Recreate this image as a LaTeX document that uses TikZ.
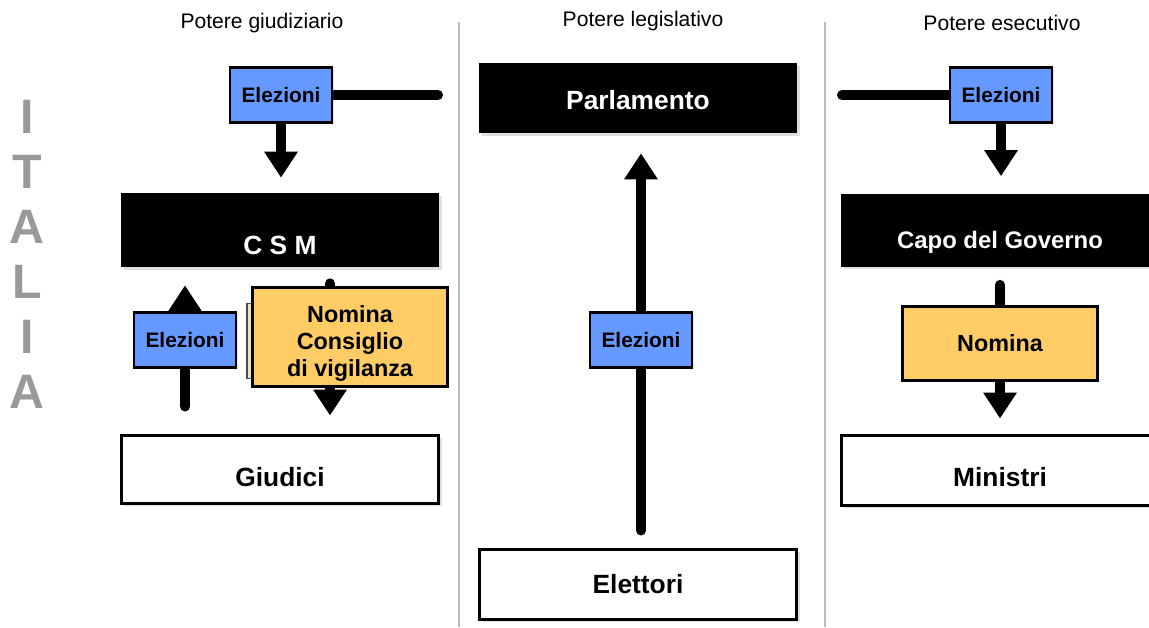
\documentclass[tikz,border=0pt]{standalone}
\usepackage{fontspec}
\setmainfont{Liberation Sans}
\usetikzlibrary{positioning, arrows.meta, calc, shadows}
\definecolor{elezblue}{HTML}{6699FF}
\definecolor{nomorange}{HTML}{FFCC66}
\definecolor{nomfaded}{HTML}{F2E2C0}
\definecolor{italgray}{HTML}{999999}
\definecolor{divgray}{HTML}{BBBBBB}
\pgfdeclarelayer{back}
\pgfdeclarelayer{links}
\pgfsetlayers{back,links,main}
\tikzset{
    bigtxt/.style={font=\fontsize{15}{17}\selectfont\bfseries},
    nomtxt/.style={align=center, font=\fontsize{13.3}{15.3}\selectfont\bfseries},
    bigbox/.style={
        rectangle,
        minimum width=6.36cm,
        minimum height=1.42cm,
        inner sep=0pt,
        bigtxt,
        drop shadow={opacity=0.25, shadow xshift=1.5pt, shadow yshift=-1.5pt},
    },
    darkbox/.style={bigbox, fill=black, text=white},
    lightbox/.style={bigbox, draw, line width=1.7pt, fill=white},
    elez/.style={
        draw,
        line width=1.5pt,
        fill=elezblue,
        minimum width=2.04cm,
        minimum height=1.1cm,
        inner sep=0pt,
        font=\fontsize{11.9}{13}\selectfont\bfseries,
        drop shadow={opacity=0.2, shadow xshift=1pt, shadow yshift=-1pt},
    },
    nomina/.style={
        draw,
        line width=1.7pt,
        fill=nomorange,
        minimum width=3.9cm,
        inner sep=0pt,
        nomtxt,
        drop shadow={opacity=0.2, shadow xshift=1pt, shadow yshift=-1pt},
    },
    nomback/.style={draw=black!70, line width=1pt, fill=nomfaded, minimum width=1.08cm, minimum height=1.5cm},
    header/.style={font=\fontsize{12}{14}\selectfont},
    italia/.style={text=italgray, font=\fontsize{27.5}{30}\selectfont\bfseries, inner sep=0pt},
    arr/.style={line width=0.2cm, line cap=round, -{Triangle[width=0.64cm, length=0.52cm]}},
    thickline/.style={line width=0.2cm, line cap=round},
    divider/.style={draw=divgray, line width=1.5pt},
}

\begin{document}
\begin{tikzpicture}[x=0.02cm, y=-0.02cm]
\begin{pgfonlayer}{back}
\fill[white] (0,0) rectangle (1149,627);
\end{pgfonlayer}
\useasboundingbox (0,0) rectangle (1149,627);

% ITALIA
\foreach \l [count=\i] in {I,T,A,L,I,A}
    \node[italia] (it\i) at (27,62+55*\i) {\l};

% columns
\draw[divider] (459,22) -- (459,627);
\draw[divider] (825,22) -- (825,627);
\node[header] (hgiud) at (262,23) {Potere giudiziario};
\node[header] (hleg) at (643,21) {Potere legislativo};
\node[header] (hesec) at (1002,23) {Potere esecutivo};

% potere giudiziario
\node[elez] (elezG) at (281,95) {Elezioni};
\node[darkbox, minimum height=1.48cm, label={[bigtxt, text=white, yshift=-0.3cm]center:C S M}] (csm) at (280,230) {};
\node[elez] (elezC) at (185,340) {Elezioni};
\node[nomback] (nomCback) at (274,341) {};
\node[nomina, minimum height=1.98cm, label={[nomtxt, yshift=-0.13cm]center:Nomina\\Consiglio\\di vigilanza}] (nomC) at (350,337) {};
\node[lightbox, minimum height=1.36cm, label={[bigtxt, yshift=-0.16cm]center:Giudici}] (giudici) at (280,469) {};
\coordinate (gEnd) at (438,95);

% potere legislativo
\node[darkbox, minimum height=1.4cm, label={[bigtxt, text=white, yshift=-0.05cm]center:Parlamento}] (parl) at (638,98) {};
\node[elez] (elezP) at (641,340) {Elezioni};
\node[lightbox, minimum height=1.4cm] (elettori) at (638,584) {Elettori};

% potere esecutivo
\node[elez] (elezE) at (1001,95) {Elezioni};
\node[darkbox, minimum height=1.46cm, label={[font=\fontsize{13.6}{16}\selectfont\bfseries, text=white, yshift=-0.24cm]center:Capo del Governo}] (capo) at (1000,230) {};
\node[nomina, minimum height=1.48cm] (nomE) at (1000,343) {Nomina};
\node[lightbox, minimum height=1.4cm, label={[bigtxt, yshift=-0.14cm]center:Ministri}] (ministri) at (1000,470) {};
\coordinate (eStart) at (842,95);

% links
\begin{pgfonlayer}{links}
\draw[thickline] (elezG.east) -- (gEnd);
\draw[thickline] (eStart) -- (elezE.west);
\draw[arr, shorten >=0.3cm] (elezG) -- (elezG |- csm.north);
\draw[arr, shorten <=0.54cm, shorten >=0.36cm] (elezC |- giudici.north) -- (elezC |- csm.south);
\draw[arr, shorten <=0.32cm, shorten >=0.36cm] ($(nomC.center |- csm.south)+(-20,0)$) -- ($(nomC.center |- giudici.north)+(-20,0)$);
\draw[arr, shorten <=0.34cm, shorten >=0.4cm] (elezP |- elettori.north) -- (elezP |- parl.south);
\draw[arr, shorten >=0.34cm] (elezE) -- (elezE |- capo.north);
\draw[arr, shorten <=0.36cm, shorten >=0.3cm] (capo.south) -- (ministri.north);
\end{pgfonlayer}
\end{tikzpicture}
\end{document}
